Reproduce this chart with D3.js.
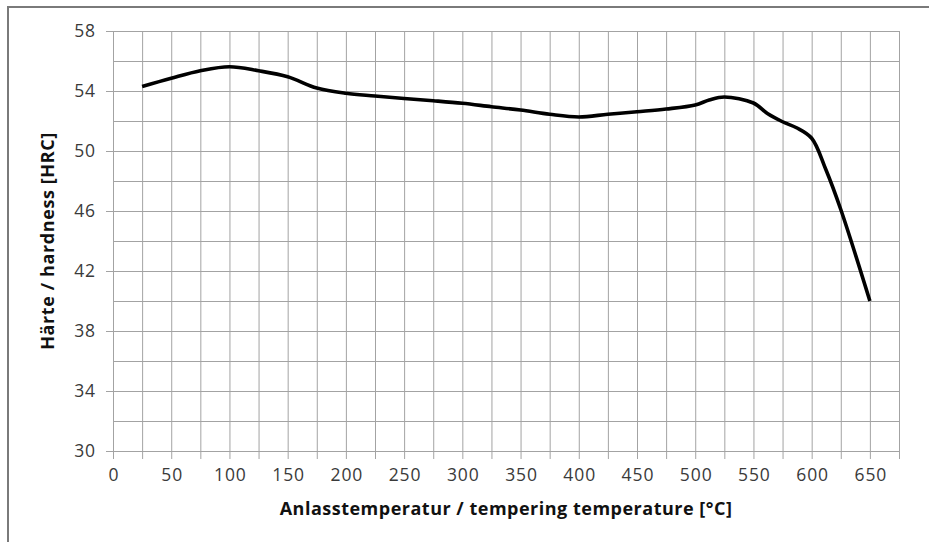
<!DOCTYPE html>
<html><head><meta charset="utf-8">
<script src="https://cdn.jsdelivr.net/npm/d3@7"></script>
<style>body{margin:0;background:#fff}svg{display:block}</style>
</head><body>
<svg id="c" width="929" height="542"></svg>
<script>
const temps = [25,50,75,100,125,150,175,200,225,250,275,300,325,350,375,400,425,450,475,500,512,525,550,562,575,587,600,612,625,650];
const hardness = [54.3,54.85,55.35,55.62,55.35,54.95,54.2,53.85,53.67,53.5,53.35,53.18,52.95,52.73,52.45,52.27,52.45,52.62,52.8,53.07,53.4,53.6,53.2,52.5,51.95,51.55,50.85,48.8,46.1,40.0];
const xTicks = [0,50,100,150,200,250,300,350,400,450,500,550,600,650];
const yTicks = [30,34,38,42,46,50,54,58];
const xTitle = "Anlasstemperatur / tempering temperature [°C]";
const yTitle = "Härte / hardness [HRC]";

const svg = d3.select("#c");
const L=113,R=899,T=31,B=451;
const x = d3.scaleLinear().domain([0,675]).range([L,R]);
const y = d3.scaleLinear().domain([30,58]).range([B,T]);
const grid="#a3a3a3";
const font="'Open Sans', 'Noto Sans', sans-serif";

// outer frame (top & left visible)
svg.append("path").attr("d","M8,542V7H929").attr("fill","none").attr("stroke","#7a7a7a").attr("stroke-width",2);

// grid
const g = svg.append("g");
g.selectAll(".vg").data(d3.range(0,676,25)).join("line")
  .attr("x1",d=>x(d)+0.5).attr("x2",d=>x(d)+0.5).attr("y1",T).attr("y2",B+8)
  .attr("stroke",grid).attr("stroke-width",1);
g.selectAll(".hg").data(d3.range(30,58.1,2)).join("line")
  .attr("x1",d=>yTicks.includes(d)?L-7:L).attr("x2",R).attr("y1",d=>Math.round(y(d))+0.5).attr("y2",d=>Math.round(y(d))+0.5)
  .attr("stroke",grid).attr("stroke-width",1);

// axes labels via d3 axes
const xa = svg.append("g").attr("transform",`translate(0,${B})`)
  .call(d3.axisBottom(x).tickValues(xTicks).tickSize(0).tickPadding(18));
const ya = svg.append("g").attr("transform",`translate(${L},0)`)
  .call(d3.axisLeft(y).tickValues(yTicks).tickSize(0).tickPadding(17));
[xa,ya].forEach(a=>{a.select(".domain").remove();a.selectAll("text").attr("font-family",font).attr("font-size",17.5).attr("letter-spacing","0.9px").attr("fill","#3a3a3a");});
xa.selectAll("text").attr("dx","0.45px");

// curve
const line = d3.line().x((d,i)=>x(temps[i])).y(d=>y(d)).curve(d3.curveCatmullRom.alpha(0.5));
svg.append("path").attr("d",line(hardness)).attr("fill","none").attr("stroke","#000")
  .attr("stroke-width",3.6).attr("stroke-linejoin","round").attr("stroke-linecap","butt");

// titles
svg.append("text").attr("x",506).attr("y",515).attr("text-anchor","middle")
  .attr("font-family",font).attr("font-weight","bold").attr("font-size",18).attr("letter-spacing","0.5px").attr("fill","#111").text(xTitle);
svg.append("text").attr("transform",`translate(54,${(T+B)/2}) rotate(-90)`).attr("text-anchor","middle")
  .attr("font-family",font).attr("font-weight","bold").attr("font-size",18).attr("letter-spacing","0.6px").attr("fill","#111").text(yTitle);
</script>
</body></html>
